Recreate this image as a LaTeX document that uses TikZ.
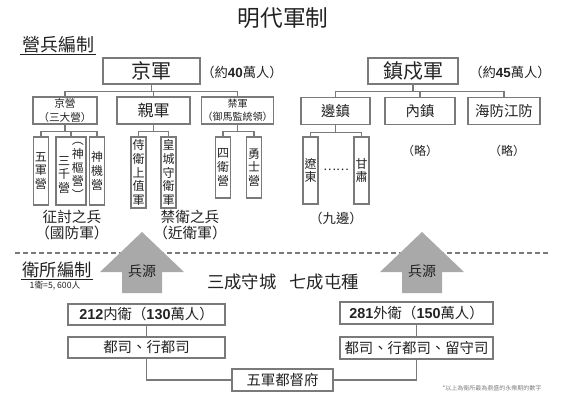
\documentclass[tikz,border=0pt]{standalone}
\usepackage{fontspec}
\setmainfont{Noto Sans CJK TC}
\newfontfamily\numfont{Liberation Sans}
\newcommand{\bnum}[1]{{\numfont\bfseries #1}}
\definecolor{ink}{HTML}{222222}
\definecolor{frame}{HTML}{7A7A7A}
\definecolor{arrowgray}{HTML}{A9A9A9}

\begin{document}
\begin{tikzpicture}[x=0.75pt, y=-0.75pt,
  every node/.style={text=ink, inner sep=1pt},
  box/.style={draw=frame, line width=0.8pt},
  vbox/.style={box, minimum width=11.25pt, align=center, font=\fontsize{9}{10.2}\selectfont},
  link/.style={frame, line width=0.8pt}]
\useasboundingbox (0,0) rectangle (565,400);
\node[font=\fontsize{17}{20}\selectfont] (title) at (283,18) {明代軍制};
% 營兵編制
\node[font=\fontsize{13.5}{16}\selectfont] (yingbing) at (58,45) {營兵編制};
\draw[ink, line width=0.8pt] (yingbing.south west) -- (yingbing.south east);
\node[box, minimum width=72.75pt, minimum height=19.5pt, font=\fontsize{15}{18}\selectfont] (jingjun) at (151.5,71) {京軍};
\node[font=\fontsize{10}{12}\selectfont] (jjnote) at (242,72) {（約\bnum{40}萬人）};
\node[box, minimum width=67.5pt, minimum height=19.5pt, font=\fontsize{15}{18}\selectfont] (zhenshu) at (413,71) {鎮戍軍};
\node[font=\fontsize{10}{12}\selectfont] (zsnote) at (510,72) {（約\bnum{45}萬人）};
\node[box, minimum width=48pt, minimum height=20.25pt, align=center, font=\fontsize{8}{10}\selectfont] (jingying) at (65,110.5) {京營\\（三大營）};
\node[box, minimum width=54.75pt, minimum height=20.25pt, font=\fontsize{12}{14}\selectfont] (qinjun) at (153.5,110.5) {親軍};
\node[box, minimum width=53.25pt, minimum height=20.25pt, align=center, font=\fontsize{7.5}{10}\selectfont] (jinjun) at (237.5,110.5) {禁軍\\（御馬監統領）};
\node[box, minimum width=51.75pt, minimum height=20.25pt, font=\fontsize{10.8}{13}\selectfont] (bianzhen) at (335.5,111) {邊鎮};
\node[box, minimum width=52.5pt, minimum height=20.25pt, font=\fontsize{10.8}{13}\selectfont] (neizhen) at (420,111) {內鎮};
\node[box, minimum width=54pt, minimum height=20.25pt, font=\fontsize{10.8}{13}\selectfont] (haifang) at (504,111) {海防江防};
\draw[link] (jingjun.south) -- ++(0,7) coordinate (jjbus);
\foreach \c in {jingying,qinjun,jinjun} \draw[link] (jjbus) -| (\c.north);
\draw[link] (zhenshu.south) -- ++(0,6.5) coordinate (zsbus);
\foreach \c in {bianzhen,neizhen,haifang} \draw[link] (zsbus) -| (\c.north);
% vertical boxes
\foreach \nm/\x/\y/\h/\txt in {wujun/41/171/51/{五\\軍\\營}, shenji/97/171/51/{神\\機\\營},
    shiwei/138.5/172.5/53.25/{侍\\衛\\上\\值\\軍}, huangcheng/168.5/172.5/53.25/{皇\\城\\守\\衛\\軍},
    siwei/223/167.5/45.75/{四\\衛\\營}, yongshi/254/167.5/45.75/{勇\\士\\營},
    liaodong/310.5/170.5/50.25/{遼\\東}, gansu/361.5/170.5/50.25/{甘\\肅}}
  \node[vbox, minimum height=\h pt] (\nm) at (\x,\y) {\txt};
\node[box, minimum width=22.5pt, minimum height=51pt] (sanqian) at (71,171) {};
\node[align=center, font=\fontsize{9}{10.2}\selectfont] (sanqianA) at ([xshift=-5.2pt,yshift=-3pt]sanqian.center) {三\\千\\營};
\node[align=center, font=\fontsize{9}{10.2}\selectfont] (sanqianB) at ([xshift=5.2pt]sanqian.center) {︵\\神\\樞\\營\\︶};
\draw[link] (jingying.south) -- ++(0,7) coordinate (jybus);
\foreach \c in {wujun,sanqian,shenji} \draw[link] (jybus) -| (\c.north);
\draw[link] (qinjun.south) -- ++(0,7) coordinate (qjbus);
\foreach \c in {shiwei,huangcheng} \draw[link] (qjbus) -| (\c.north);
\draw[link] (jinjun.south) -- ++(0,7) coordinate (jnbus);
\foreach \c in {siwei,yongshi} \draw[link] (jnbus) -| (\c.north);
\draw[link] (bianzhen.south) -- ++(0,7) coordinate (bzbus);
\foreach \c in {liaodong,gansu} \draw[link] (bzbus) -| (\c.north);
\node[font=\fontsize{9}{10}\selectfont] (dots) at (336,170) {……};
\node[font=\fontsize{9}{11}\selectfont] (lueA) at (420,151) {（略）};
\node[font=\fontsize{9}{11}\selectfont] (lueB) at (507,151) {（略）};
\node[align=center, font=\fontsize{11}{11.5}\selectfont] (zhengtao) at (72,225) {征討之兵\\（國防軍）};
\node[align=center, font=\fontsize{11}{11.5}\selectfont] (jinwei) at (190,225) {禁衛之兵\\（近衛軍）};
\node[font=\fontsize{10}{12}\selectfont] (jiubian) at (336,218) {（九邊）};
% 衛所編制
\coordinate (cutL) at (15,253);
\coordinate (cutR) at (550,253);
\draw[frame, line width=0.8pt, dash pattern=on 3.5pt off 2.5pt] (cutL) -- (cutR);
\node[font=\fontsize{13}{16}\selectfont] (weisuo) at (57,270) {衛所編制};
\draw[ink, line width=0.8pt] (weisuo.south west) -- (weisuo.south east);
\node[font=\fontsize{6.5}{8}\selectfont] (weisize) at (55,286) {1衛=5, 600人};
\foreach \ax/\nm in {142/srcL, 422/srcR} {
  \fill[arrowgray] (\ax-20,293) -- (\ax-20,272) -- (\ax-42,272) -- (\ax,232) -- (\ax+42,272) -- (\ax+20,272) -- (\ax+20,293) -- cycle;
  \node[font=\fontsize{10.5}{12}\selectfont] (\nm) at (\ax,271) {兵源};
}
\node[font=\fontsize{13}{16}\selectfont] (ratio) at (283,282) {三成守城\hspace{0.75em}七成屯種};
\node[box, minimum width=117.75pt, minimum height=15.75pt, font=\fontsize{10.8}{13}\selectfont] (neiwei) at (146.5,314.5) {\bnum{212}内衛（\bnum{130}萬人）};
\node[box, minimum width=117.75pt, minimum height=15.75pt, font=\fontsize{10.8}{13}\selectfont] (dusiL) at (146.5,347.5) {都司、行都司};
\node[box, minimum width=114.75pt, minimum height=16.5pt, font=\fontsize{10.8}{13}\selectfont] (waiwei) at (416.5,313) {\bnum{281}外衛（\bnum{150}萬人）};
\node[box, minimum width=114.75pt, minimum height=16.5pt, font=\fontsize{10.8}{13}\selectfont] (dusiR) at (416.5,348) {都司、行都司、留守司};
\node[box, minimum width=75.75pt, minimum height=16.5pt, font=\fontsize{10.8}{13}\selectfont] (dudu) at (282.5,380) {五軍都督府};
\draw[link] (neiwei.south) -- (dusiL.north);
\draw[link] (waiwei.south) -- (dusiR.north);
\draw[link] (dusiL.south) |- (dudu.west);
\draw[link] (dusiR.south) |- (dudu.east);
\node[text=gray, font=\fontsize{4.5}{5}\selectfont] (footnote) at (492,388) {*以上為衛所最為鼎盛的永樂期的數字};
\end{tikzpicture}
\end{document}
